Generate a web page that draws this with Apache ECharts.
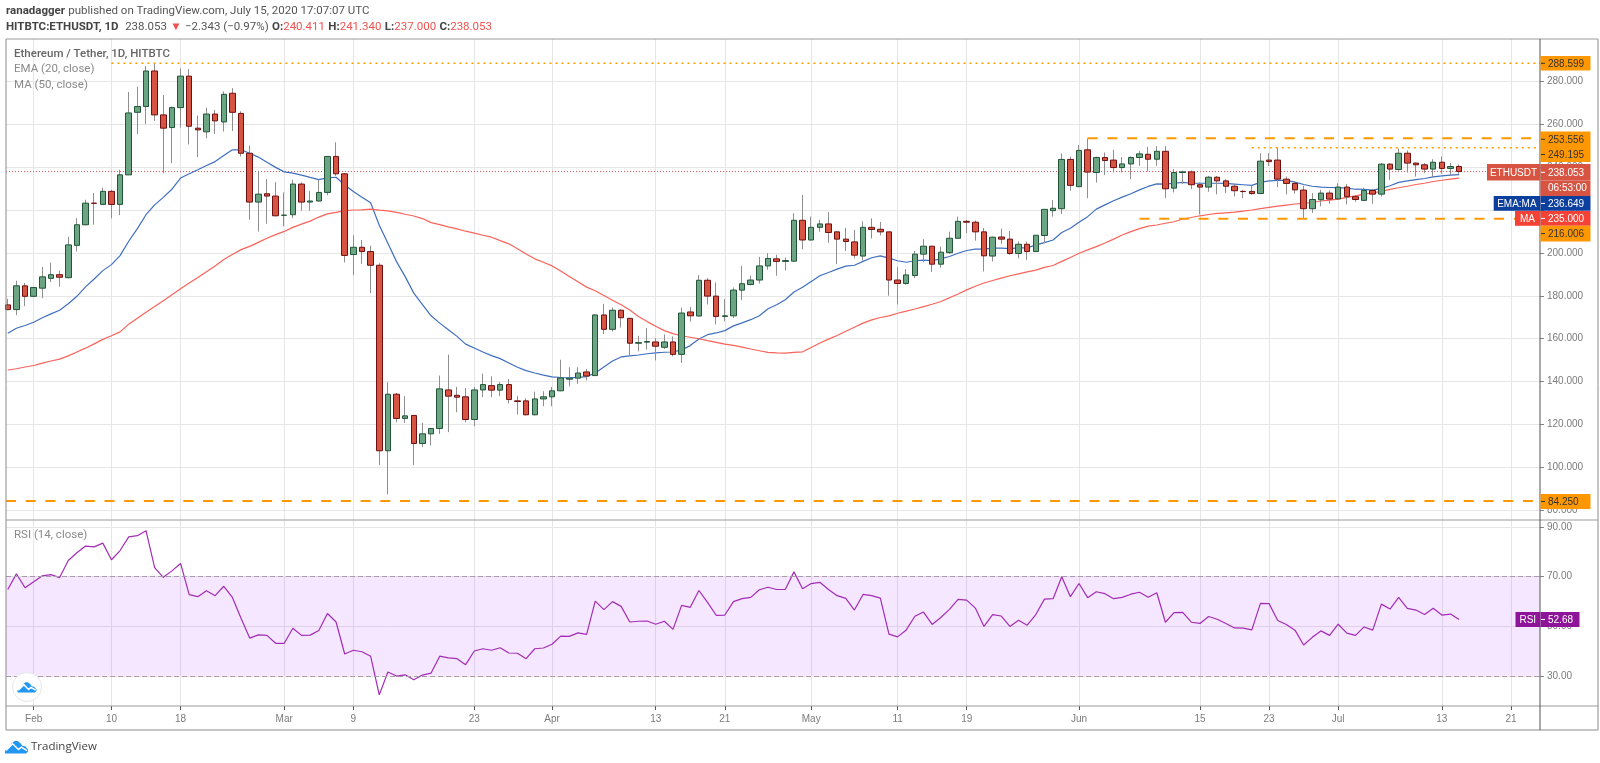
<!DOCTYPE html>
<html><head><meta charset="utf-8">
<style>html,body{margin:0;padding:0;background:#fff}#c{width:1600px;height:763px}</style>
<script src="https://cdn.jsdelivr.net/npm/echarts@6/dist/echarts.min.js"></script>
</head><body><div id="c"></div>
<script>
// daily values, 29 Jan 2020 .. 15 Jul 2020 (one row per month)
const opens=[175.8,173.6,184.7,
179.8,183.6,188.2,189.9,188.5,203.6,213.2,223.3,222.7,228.8,222.7,236.5,265.7,268.4,285,264.5,258.6,267.9,282.6,258.3,256.6,264.9,261.2,274.6,265.2,246.6,223.8,227.7,226.6,
217.6,217.9,232.2,223.8,224.3,228.3,245.1,237,199.3,202.7,200.7,194.3,107.7,134.1,122.8,124.2,111.1,115.6,118.1,136.1,133.6,132.9,122.3,136.1,138.1,136,138.6,131,131,124.5,131.9,
132.9,135.7,141.1,141.6,144.5,142.8,171.1,164.4,173.3,169.5,157.9,158.4,158.5,156,158.5,152.7,172.5,170.6,187.3,179.9,170.4,170.7,182.7,185.3,187.4,194,197.3,196.1,196.2,215.3,
206.1,212,213.6,209.9,206.5,205.2,198.6,212,211.1,209.9,187.4,185.8,189.5,199.5,203.2,194.8,200.2,206.9,214.8,214.4,209.9,198.6,207.5,206.5,199.8,204.1,200.7,208.2,219.8,220.7,243.7,
231,248.2,237.6,244.6,243.4,239.9,241.6,244.6,246.1,243.8,247.5,230.3,237.6,237.9,231.9,230.8,235.4,233.7,231.2,228.8,228.8,227.8,243.4,243.4,234.5,232.5,229.4,220.7,224.9,228,
225.3,230.8,226.3,224.6,229.2,227.5,241.5,239,246.6,242,241.2,239.2,242.4,239.5,240.41];
const closes=[173.6,184.7,179.8,
183.9,188.9,189.9,188.7,203.8,213.2,223.3,223.2,228.8,222.7,236.5,265.4,268.4,285,264.5,258.3,267.9,282.6,259.2,257.5,264.9,261.7,274.1,265.7,246.6,223.8,227.5,226.6,217.4,
217.7,232.2,223.8,224.3,228.3,245.1,237,198.9,202.7,200.7,194.3,107.7,134.1,122.8,124,111.1,115.6,118.1,136.6,133.2,132.7,122.3,136.1,138.6,136,138.6,131.6,130.7,124.5,131.9,132.9,
135.7,141.7,141.6,144,142.6,171.1,164.4,173.3,169.8,157.9,158.2,158.7,156.5,158.5,152.7,172,170.7,187.3,179.9,170.4,170.7,182.7,185.7,187.4,194,197.5,196.1,196.5,215.3,206.1,
212,213.6,209.6,206.5,205.4,199,212,211,209.9,187.4,185.8,189.8,199.5,203.2,194.8,200.4,206.9,214.8,214.4,209.9,198.7,207.4,206.5,199.8,204.1,200.7,208.3,220.4,220.9,243.7,231.6,
247.9,237.8,244.6,243.2,239.9,241.6,244.6,246.3,243.8,247.5,230,237.6,237.9,231.9,230.8,235.4,233.7,231.2,229.1,228.7,227.8,242.9,242.7,234.5,232.5,229.5,220.7,225,228,225.2,
230.8,226.3,225,229.2,227.5,241.5,239.2,246.6,242,241.2,239.2,242.4,239.5,240.4,238.05];
const lows=[173.3,171,175.2,
179.5,178.9,186.5,184.3,188.2,200.7,213,213.2,222.7,216.2,217.7,236.5,255.6,260.3,261.7,237.3,242,258.6,250.7,244.8,253.6,255.6,256.7,257,245,215.6,210,213.7,217.1,
212.5,216.3,219.8,219.8,224,227,236,195.6,189.7,195,181.3,101,87.4,121,120.7,101,109.4,110.2,115.6,116.4,125.7,121,119.2,132.7,132.7,133.2,129.8,124.6,124.2,124.2,128.5,
128.5,135.5,137.8,138.9,140.6,142.8,162.2,163.4,165.2,152.1,154.1,154.9,149.9,155.2,151.8,148.7,168,170.4,176,166.7,168.1,169.7,178,184.9,185.8,192.2,189.4,191.9,196.1,201.8,
205.8,210,204.8,194.8,201,197.5,196.5,206.8,208.2,180.1,176,185.2,188.3,195.6,191.2,193.1,199.6,206.9,209.3,205.8,191.4,196.1,204.3,199.2,197.6,196.8,200.7,204.6,217,218.3,229.1,
231,225.6,232.9,236.4,237.6,237.6,234.5,240.7,238.1,240.7,225.7,228.3,232.3,229.8,218,228.6,227.4,228,226.4,225.7,227.2,227.5,240.7,230.8,227.4,227.7,215.9,218.7,221.8,223,
225.2,222.7,223.9,224.3,223,226.4,234.2,238.5,237.6,235.7,237.3,235.4,237,236.4,237];
const highs=[178.6,187.1,186,
184.2,193.5,195.5,191.8,207.6,216.3,224.9,228,230.5,229.5,238.9,275.2,277.7,287.3,288.5,273.8,268.4,286.2,285.9,264.2,267.9,266.8,275.5,277,266.2,250.2,238.4,234.5,233.1,
228.3,234.2,233,228.9,234.2,245.3,251.7,237.3,208.3,206.1,203.4,195.3,139.7,134.7,133.2,124.2,120.7,118.4,142.8,152.6,137.5,137,137.5,143.7,142.5,139.8,141.2,133.2,132.2,135.3,135.5,
137.5,150.2,146.7,146.7,145.9,171.5,176.3,174.6,173.8,169.8,161.4,165,160.3,162,161.1,174.5,174.8,189.7,188.3,186.3,178.6,183.9,194,189.5,198.2,200,199.2,197.9,218.6,227.1,
217,215.5,219.2,210.2,211.7,210.8,214.8,216.2,214.5,209.9,193.4,192.5,201,206.5,203.4,203,210,217,215.5,215.2,211.7,207.7,211.4,210.3,205.4,205.4,208.3,220.4,224.8,246.5,245,
250.4,253.5,245,246.9,248.2,244.8,245.1,247.7,249.6,249.9,249.9,239.2,238.5,238.5,233,236,236,234.5,231.9,229.5,231.7,246.6,246.6,249.3,235.7,233.4,231.4,228,229.5,229.2,
232.6,232.3,227.1,230.5,230,242,242,248.8,247.9,242.3,242,243.8,245.1,242,241.34];
const ema20=[162.6,164.9,166.2,
167.7,169.8,171.6,173.3,176.3,179.8,184.2,187.9,191.8,194.6,198.8,205.5,211.4,217.9,222.5,226,229.8,235,237,238.9,240.9,242.7,245.5,248.2,248.2,246.6,244.8,242.4,240,
237.9,237.3,236.4,235.3,234.3,235.1,235.4,231.8,228.7,226,223.5,213,204.6,196,189,181.3,175.9,170.7,167.3,164.2,161.1,157.5,155.7,153.8,152.1,150.7,148.7,146.7,145.1,144,143,
142.2,141.9,141.7,142,142.3,144,146.8,149.6,151.5,152,152.4,153,153.4,153.7,153.8,154.8,156.8,159.9,161.9,162.7,163.8,166,167.4,168.9,170.7,174,175.9,178.2,181.8,184,
186.7,189.4,190.9,192.5,193.9,194.3,196.1,197.8,198.7,197.6,196.4,195.7,196.4,196.7,196.5,197.3,198.4,199.9,201.2,201.8,201.8,202.3,202.3,202.1,202.4,202.4,203.8,204.9,206.1,209.6,211.6,
214.4,217,220.5,222.5,224.4,226.1,227.7,229.5,231.1,232.3,232.2,232.6,233,232.6,232.6,232.6,232.6,232.5,232.2,231.9,231.6,233,233.7,233.9,233.9,233.1,232,231.2,230.8,230.6,
230.5,230.3,229.8,229.7,229.4,230.2,231.4,233,233.7,234.3,234.8,235.6,236,236.4,236.65];
const ma50=[145.4,146,146.8,
147.5,148.6,149.6,150.5,152,153.8,155.6,157.6,159.7,161.4,163.2,166.8,169.6,172.4,175,177.7,180.5,183.3,186,188.6,191.3,194,197,199.3,201.6,203.1,205,206.9,208.6,
210.1,212,213.5,214.9,216.8,218.3,219,219.8,220.1,220.2,220.5,220,219.7,219,218.1,217.3,216.1,214.2,213.3,212.2,211.3,210.2,209.3,208.3,207.4,205.8,204.3,202,199.6,197.3,195.7,
194,191.6,189.1,186.6,184.1,182.4,180.2,178,175.9,173.4,170.4,168,165.8,163.8,162.4,161.4,160.7,160,159.1,158.3,157.5,156.9,156.1,155.2,154.4,153.6,153.4,153.3,153.6,153.9,
155.9,158,159.8,161.5,163.5,165.4,167.3,168.8,169.9,170.7,171.9,172.9,173.9,175,176.1,177.4,179.1,180.9,182.8,184.5,186,187.2,188.3,189.4,190.3,191.2,192,193.3,194.2,196.1,197.9,
199.9,201.5,203,204.7,206.5,208.4,210,211.4,212.6,213.1,213.9,214.6,215.9,216.6,217.4,218,218.5,218.8,219.1,219.6,220.1,220.7,221.3,221.9,222.4,222.9,223.2,223.6,224.3,224.7,
225.2,226,226.7,227.5,228.1,228.8,229.7,230.5,231.2,232,232.6,233.4,234,234.5,235];
const rsi14=[64.8,71.1,65.5,
67.9,70.3,70.8,69.6,76.5,79.6,82.3,82,83.5,76.8,80.5,86,86.5,88.5,73.6,69.7,72.3,75.3,62.7,61.9,64.3,62.3,66.1,61.6,53.2,45.2,46.5,46.3,43.1,
43.1,49.2,46.3,46.4,48.3,55.1,51.7,38.8,40.3,39.7,37.9,22.3,31.5,29.9,30.4,28.4,30.3,31.1,37.9,37.2,36.9,34.5,40,40.9,40.3,41.3,39.2,39.1,36.9,40.9,41.2,
42.7,46,45.9,47.3,46.7,60.1,56.7,59.9,58,51.7,52,52.1,50.8,52,48.7,58.4,57.6,64.4,59.6,54.4,54.5,59.9,61.1,61.6,64.7,65.7,64.8,64.8,71.9,65.1,
67.2,67.7,64.8,62.3,61.2,56.5,62.8,62.3,61.3,46.8,45.7,48.5,54,55.7,50.7,53.5,56.8,60.8,60.5,57.3,49.9,54.7,54.1,49.9,52.4,50.4,54.7,60.9,61.1,69.9,61.9,
67.2,61.5,63.9,63.1,61.1,61.6,62.9,63.7,61.7,63.5,51.6,55.5,55.6,51.6,51.1,53.9,52.8,51.1,49.3,49.2,48.5,59.2,59.1,52.3,50.7,48.4,42.4,45.5,48.1,46.3,
50.8,47.2,46.3,49.7,48.4,58.9,56.9,61.6,57.2,56.5,54.7,57.2,54.5,54.9,52.68];

// time axis: days counted from 1 Feb 2020
const firstDay=-3;
const tickDays=[0,9,17,29,37,51,60,72,80,90,100,108,121,135,143,151,163,171];
const tickLabels=['Feb','10','18','Mar','9','23','Apr','13','21','May','11','19','Jun','15','23','Jul','13','21'];
const priceTicks=[80,100,120,140,160,180,200,220,240,260,280];
const rsiTicks=[30,50,70,90];
const rsiBand=[30,70];
const lastPrice=238.053;
// horizontal levels: [first day, price]
const dottedLevels=[[9,288.599],[141,249.195]];
const dashedLevels=[[122,253.556],[128,216.006],[-4,84.25]];

const xMin=-3.206, xMax=174.36;
const font='"Liberation Sans",Arial,sans-serif', uiFont='Roboto,sans-serif';
const gridC='#e6e6e6', labelC='#7b7b7b', orange='#ff9800';
const days=opens.map((_,i)=>i+firstDay);
const line=(arr)=>arr.map((v,i)=>[days[i],v]);
const base={type:'line',symbol:'none',silent:true,animation:false};
function levelSeries(d,price,dash,width,color,z){
  return {...base,xAxisIndex:0,yAxisIndex:0,z,data:[[Math.max(d,xMin),price],[xMax,price]],lineStyle:{color,width,type:dash}};
}
const xBase=(idx,showLabels)=>({type:'value',gridIndex:idx,min:xMin,max:xMax,
  axisLine:{show:false,onZero:false},
  axisTick:{show:showLabels,customValues:tickDays,length:4,lineStyle:{color:'#555'}},
  axisLabel:{show:showLabels,customValues:tickDays,color:labelC,fontFamily:font,fontSize:10,margin:8,
     formatter:v=>tickLabels[tickDays.indexOf(v)]||''},
  splitLine:{show:true,lineStyle:{color:gridC,width:1}}});
const yBase=(idx,min,max,ticks,dec)=>({type:'value',gridIndex:idx,position:'right',min,max,
  axisLine:{show:false,onZero:false},
  axisTick:{show:true,customValues:ticks,length:4,lineStyle:{color:'#888'}},
  axisLabel:{customValues:ticks,color:labelC,fontFamily:font,fontSize:10,margin:7,formatter:v=>v.toFixed(dec)},
  splitLine:{show:true,lineStyle:{color:gridC,width:1}}});

const series=[
  {...base,name:'lastPrice',xAxisIndex:0,yAxisIndex:0,z:2,data:[[xMin,lastPrice],[xMax,lastPrice]],lineStyle:{color:'#ef5350',width:1,type:[1,2]}},
  {...base,name:'EMA',xAxisIndex:0,yAxisIndex:0,z:3,data:line(ema20),lineStyle:{color:'#3f6fbf',width:1.2}},
  {...base,name:'MA',xAxisIndex:0,yAxisIndex:0,z:3,data:line(ma50),lineStyle:{color:'#f9635a',width:1.2}},
  {type:'candlestick',name:'wicks',xAxisIndex:0,yAxisIndex:0,z:4,animation:false,silent:true,barWidth:1,
   encode:{x:0,y:[1,2,3,4]},
   itemStyle:{color:'#8f8f8f',color0:'#8f8f8f',borderColor:'#8f8f8f',borderColor0:'#8f8f8f',borderWidth:1},
   data:days.map((d,i)=>[d,opens[i],closes[i],lows[i],highs[i]])},
  {type:'candlestick',name:'bodies',xAxisIndex:0,yAxisIndex:0,z:5,animation:false,silent:true,barWidth:6,
   encode:{x:0,y:[1,2,3,4]},
   itemStyle:{color:'#6ba583',color0:'#d75442',borderColor:'#225437',borderColor0:'#6f1010',borderWidth:1},
   data:days.map((d,i)=>[d,opens[i],closes[i],Math.min(opens[i],closes[i]),Math.max(opens[i],closes[i])])},
  ...dottedLevels.map(l=>levelSeries(l[0],l[1],[2,4],1.5,orange,6)),
  ...dashedLevels.map(l=>levelSeries(l[0],l[1],[10,9.7],2,orange,6)),
  {...base,name:'RSI',xAxisIndex:1,yAxisIndex:1,z:4,data:line(rsi14),lineStyle:{color:'#a32cb5',width:1.2},
   markArea:{silent:true,animation:false,itemStyle:{color:'rgba(153,21,255,0.1)'},data:[[{yAxis:rsiBand[1]},{yAxis:rsiBand[0]}]]},
   markLine:{silent:true,animation:false,symbol:'none',label:{show:false},lineStyle:{color:'#a79aa9',type:[5,3],width:1},data:rsiBand.map(v=>({yAxis:v}))}}
];

const L=6,R=1598,AX=1540,TOP=39,DIV=520,RB=706,BOT=730;
const g=[];
const seg=(x1,y1,x2,y2,c,w)=>g.push({type:'line',z:20,silent:true,shape:{x1,y1,x2,y2},style:{stroke:c,lineWidth:w||1}});
seg(L,TOP,R,TOP,'#9a9a9a');seg(L,TOP,L,BOT,'#8a8a8a');seg(L,BOT,R,BOT,'#8a8a8a');seg(R,TOP,R,BOT,'#8a8a8a');
seg(L,DIV,R,DIV,'#9a9a9a');seg(L,RB,R,RB,'#9a9a9a');seg(AX,TOP,AX,BOT,'#555');
function tag(x,y,w,h,fill,text,color,bold,align){
  g.push({type:'rect',z:30,silent:true,shape:{x,y,width:w,height:h},style:{fill}});
  g.push({type:'text',z:31,silent:true,style:{x:align==='center'?x+w/2:x+w-3,y:y+h/2+.5,text,fill:color,font:(bold?'bold ':'')+'10px '+font,textAlign:align||'right',textVerticalAlign:'middle'}});
}
function seg2(x1,y1,x2,y2,c){g.push({type:'line',z:31,silent:true,shape:{x1,y1,x2,y2},style:{stroke:c,lineWidth:1}});}
function ptag(yTop,h,fill,text,color,wide){
  g.push({type:'rect',z:30,silent:true,shape:{x:AX+.5,y:yTop,width:wide||50,height:h},style:{fill}});
  g.push({type:'text',z:31,silent:true,style:{x:AX+8,y:yTop+h/2+.5,text,fill:color,font:'10px '+font,textAlign:'left',textVerticalAlign:'middle'}});
  seg2(AX+1,yTop+h/2,AX+5,yTop+h/2,color);
}
ptag(56,14.6,orange,'288.599','#333');
ptag(131.6,15.4,orange,'253.556','#333');
ptag(147,15,orange,'249.195','#333');
tag(1487,164,53,16.6,'#d75442','ETHUSDT','#fff',false,'center');
ptag(164,16.6,'#d75442','238.053','#fff');
g.push({type:'rect',z:30,silent:true,shape:{x:AX+.5,y:180.6,width:50,height:15.4},style:{fill:'#d75442'}});
g.push({type:'text',z:31,silent:true,style:{x:AX+8,y:188.5,text:'06:53:00',fill:'#fff',font:'10px '+font,textAlign:'left',textVerticalAlign:'middle'}});
tag(1493.7,196,46.3,14.8,'#0d3f9f','EMA:MA','#fff',false,'center');
ptag(196,14.8,'#0d3f9f','236.649','#fff');
tag(1515,211,25,14.8,'#f44336','MA','#fff',false,'center');
ptag(211,14.8,'#f44336','235.000','#fff');
ptag(225.8,15.6,orange,'216.006','#333');
ptag(494,15,orange,'84.250','#333');
tag(1515.5,612,24.5,15,'#8e1599','RSI','#fff',false,'center');
ptag(612,15,'#8e1599','52.68','#fff',39);

// header and legends
g.push({type:'text',z:40,silent:true,style:{x:6,y:11,textVerticalAlign:'middle',text:'{b|ranadagger} {n|published on TradingView.com, July 15, 2020 17:07:07 UTC}',
  rich:{b:{font:'bold 11.5px '+uiFont,fill:'#444'},n:{font:'11.5px '+uiFont,fill:'#555'}}}});
g.push({type:'text',z:40,silent:true,style:{x:6,y:27,textVerticalAlign:'middle',
  text:'{b|HITBTC:ETHUSDT, 1D}  {n|238.053} {r|▼} {n|−2.343 (−0.97%)} {b|O:}{r|240.411} {b|H:}{r|241.340} {b|L:}{r|237.000} {b|C:}{r|238.053}',
  rich:{b:{font:'bold 11.5px '+uiFont,fill:'#444'},n:{font:'11.5px '+uiFont,fill:'#555'},r:{font:'11.5px '+uiFont,fill:'#ef5350'}}}});
const note=(y,t,c,b)=>g.push({type:'text',z:40,silent:true,style:{x:14,y,text:t,fill:c,font:(b?'500 ':'')+'11.5px '+uiFont,textVerticalAlign:'middle'}});
note(54,'Ethereum / Tether, 1D, HITBTC','#666',true);note(69.5,'EMA (20, close)','#8a8a8a');note(85,'MA (50, close)','#8a8a8a');note(535,'RSI (14, close)','#8a8a8a');

// TradingView marks
const cloud=[[0,14],[0,11],[2,9],[5,8],[6.5,4],[10,1],[13,1],[16,3],[18,6],[21,6.5],[24,10],[24,12],[22,14]];
function logo(x,y,w){
  const k=w/24;
  g.push({type:'polygon',z:41,silent:true,shape:{points:cloud.map(p=>[x+p[0]*k,y+p[1]*k])},style:{fill:'#2196f3'}});
  g.push({type:'polyline',z:42,silent:true,shape:{points:[[x+1*k,y+11*k],[x+8*k,y+4*k],[x+14*k,y+10*k],[x+17*k,y+7.5*k],[x+23*k,y+11*k]]},style:{stroke:'#fff',fill:'none',lineWidth:1.5}});
}
g.push({type:'circle',z:40,silent:true,shape:{cx:27,cy:687,r:14.5},style:{fill:'#fff',stroke:'#e6e6e6',lineWidth:1}});
logo(17.5,681.5,19);
logo(5,740,23);
g.push({type:'text',z:40,silent:true,style:{x:31,y:746.5,text:'TradingView',fill:'#444',font:'11.5px "Open Sans",sans-serif',textVerticalAlign:'middle'}});

const chart=echarts.init(document.getElementById('c'),null,{renderer:'canvas'});
chart.setOption({
  animation:false,backgroundColor:'#fff',
  grid:[{left:L,top:TOP,width:AX-L,height:DIV-TOP},{left:L,top:DIV,width:AX-L,height:RB-DIV}],
  xAxis:[xBase(0,false),xBase(1,true)],
  yAxis:[yBase(0,75.38,299.93,priceTicks,3),yBase(1,17.82,92.82,rsiTicks,2)],
  series,graphic:{elements:g}
});
</script></body></html>
